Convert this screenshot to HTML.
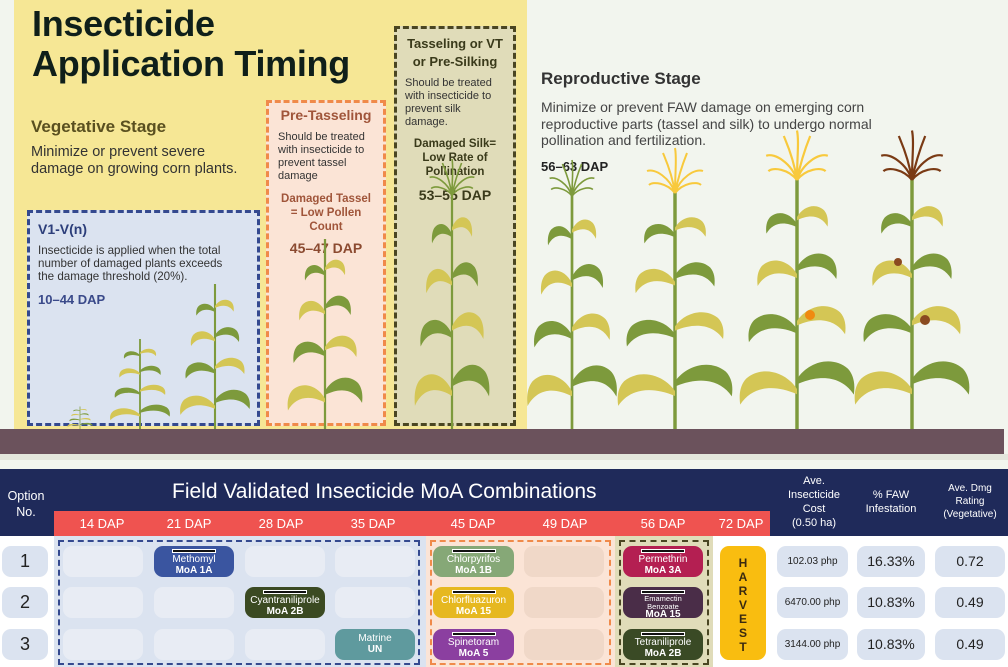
<!DOCTYPE html>
<html><head><meta charset="utf-8"><style>
*{margin:0;padding:0;box-sizing:border-box}
body{width:1008px;height:667px;position:relative;overflow:hidden;background:#f2f5ee;font-family:"Liberation Sans",sans-serif}
.a{position:absolute}
.c{text-align:center}
.cell{position:absolute;border-radius:9px;background:#e8ecf4;color:#fff;text-align:center;font-size:10px;line-height:11px}
.g{display:block;margin:3px auto 1px;width:44px;height:4px;background:#111;border:1px solid #fff}
.hd{color:#fff;font-size:21px;position:absolute}
.dap{position:absolute;top:516px;color:#fff;font-size:13px;width:80px;text-align:center}
.rc{position:absolute;border-radius:9px;background:#dbe3f0;color:#222;text-align:center}
</style></head><body>
<div class="a" style="left:14px;top:0;width:513px;height:430px;background:#f6e795"></div>
<div class="a" style="left:27px;top:210px;width:233px;height:216px;background:#dbe3f0;border:3px dashed #34498f"></div>
<div class="a" style="left:266px;top:100px;width:120px;height:326px;background:#fbe4d6;border:3px dashed #f08a4a"></div>
<div class="a" style="left:394px;top:26px;width:122px;height:400px;background:#e0dcb9;border:3px dashed #4a4622"></div>

<div class="a" style="left:32px;top:4px;font-size:36px;font-weight:bold;line-height:40px;color:#0f1f1a;letter-spacing:-0.3px">Insecticide<br>Application Timing</div>
<div class="a" style="left:31px;top:117px;font-size:17px;font-weight:bold;color:#5a5020">Vegetative Stage</div>
<div class="a" style="left:31px;top:144px;font-size:14.5px;line-height:17px;color:#333">Minimize or prevent severe<br>damage on growing corn plants.</div>
<div class="a" style="left:38px;top:221px;font-size:14px;font-weight:bold;color:#2c3e7a">V1-V(n)</div>
<div class="a" style="left:38px;top:244px;font-size:11.6px;line-height:13px;color:#333">Insecticide is applied when the total<br>number of damaged plants exceeds<br>the damage threshold (20%).</div>
<div class="a" style="left:38px;top:292px;font-size:13px;font-weight:bold;color:#3a4a8a">10–44 DAP</div>

<div class="a c" style="left:266px;top:107px;width:120px;font-size:14px;font-weight:bold;color:#a0553a">Pre-Tasseling</div>
<div class="a" style="left:278px;top:131px;font-size:11px;line-height:13px;color:#333">Should be treated<br>with insecticide to<br>prevent tassel<br>damage</div>
<div class="a c" style="left:266px;top:192px;width:120px;font-size:11.5px;line-height:14px;font-weight:bold;color:#a0553a">Damaged Tassel<br>= Low Pollen<br>Count</div>
<div class="a c" style="left:266px;top:240px;width:120px;font-size:14px;font-weight:bold;color:#8b4a30">45–47 DAP</div>

<div class="a c" style="left:394px;top:35px;width:122px;font-size:13px;line-height:18px;font-weight:bold;color:#3a3a1a">Tasseling or VT<br>or Pre-Silking</div>
<div class="a" style="left:405px;top:77px;font-size:11px;line-height:13px;color:#333">Should be treated<br>with insecticide to<br>prevent silk<br>damage.</div>
<div class="a c" style="left:394px;top:137px;width:122px;font-size:11.5px;line-height:14px;font-weight:bold;color:#3a3a1a">Damaged Silk=<br>Low Rate of<br>Pollination</div>
<div class="a c" style="left:394px;top:187px;width:122px;font-size:14px;font-weight:bold;color:#3a3a1a">53–55 DAP</div>

<div class="a" style="left:541px;top:69px;font-size:17px;font-weight:bold;color:#333">Reproductive Stage</div>
<div class="a" style="left:541px;top:99px;font-size:14px;line-height:16.5px;color:#444">Minimize or prevent FAW damage on emerging corn<br>reproductive parts (tassel and silk) to undergo normal<br>pollination and fertilization.</div>
<div class="a" style="left:541px;top:159px;font-size:13px;font-weight:bold;color:#222">56–63 DAP</div>

<svg class="a" style="left:0;top:0" width="1008" height="460">
<defs>
<path id="lf" d="M0 0 C8 -14 24 -18 34 -8 C38 -3 39 4 38 12 C30 -2 16 -4 0 4 Z"/>
<g id="corn">
<line x1="0" y1="0" x2="0" y2="-250" stroke="#7d9a3c" stroke-width="3"/>
<use href="#lf" fill="#d4c655" transform="translate(0,-40) scale(-1.3,1.3)"/>
<use href="#lf" fill="#7d9a3c" transform="translate(0,-50) scale(1.3,1.3)"/>
<use href="#lf" fill="#7d9a3c" transform="translate(0,-100) scale(-1.1,1.1)"/>
<use href="#lf" fill="#d4c655" transform="translate(0,-108) scale(1.1,1.1)"/>
<use href="#lf" fill="#d4c655" transform="translate(0,-155) scale(-0.9,1)"/>
<use href="#lf" fill="#7d9a3c" transform="translate(0,-162) scale(0.9,1)"/>
<use href="#lf" fill="#7d9a3c" transform="translate(0,-205) scale(-0.7,0.8)"/>
<use href="#lf" fill="#d4c655" transform="translate(0,-212) scale(0.7,0.8)"/>
</g>
<g id="tas" fill="none" stroke-width="2">
<path d="M0 0 C-5 -15 -20 -25 -28 -22 M0 0 C-3 -20 -10 -35 -12 -40 M0 0 C0 -20 2 -35 0 -45 M0 0 C4 -20 10 -35 12 -40 M0 0 C5 -15 20 -25 28 -22 M0 0 C-8 -10 -22 -12 -26 -8 M0 0 C8 -10 22 -12 26 -8"/>
</g>
</defs>
<use href="#corn" transform="translate(80,429) scale(0.25,0.09)"/>
<use href="#corn" transform="translate(140,429) scale(0.6,0.36)"/>
<use href="#corn" transform="translate(215,429) scale(0.7,0.58)"/>
<use href="#corn" transform="translate(325,429) scale(0.75,0.76)"/>
<use href="#corn" transform="translate(452,429) scale(0.75,0.95)"/>
<use href="#tas" stroke="#7d9a3c" transform="translate(452,195) scale(0.8)"/>
<use href="#corn" transform="translate(572,429) scale(0.9,0.94)"/>
<use href="#tas" stroke="#7d9a3c" transform="translate(572,196) scale(0.8)"/>
<use href="#corn" transform="translate(675,429) scale(1.15,0.95)"/>
<use href="#tas" stroke="#f8c93c" transform="translate(675,193)"/>
<use href="#corn" transform="translate(797,429) scale(1.15,1.0)"/>
<use href="#tas" stroke="#f8c93c" transform="translate(797,180) scale(1.1)"/>
<circle cx="810" cy="315" r="5" fill="#f08a10"/>
<use href="#corn" transform="translate(912,429) scale(1.15,1.0)"/>
<use href="#tas" stroke="#7a3a14" transform="translate(912,180) scale(1.1)"/>
<circle cx="925" cy="320" r="5" fill="#8a4a20"/><circle cx="898" cy="262" r="4" fill="#8a4a20"/>
<rect x="0" y="429" width="1004" height="25" fill="#6b525c"/>
<rect x="0" y="454" width="1008" height="15" fill="#e3e6dc"/>
</svg>

<!-- table -->
<div class="a" style="left:0;top:469px;width:1008px;height:67px;background:#1f2a5a"></div>
<div class="a" style="left:54px;top:511px;width:716px;height:25px;background:#ef5350"></div>
<div class="a c" style="left:0;top:488px;width:52px;color:#fff;font-size:12.5px;line-height:16px">Option<br>No.</div>
<div class="hd" style="left:172px;top:480px">Field Validated Insecticide MoA Combinations</div>
<div class="dap" style="left:62px">14 DAP</div><div class="dap" style="left:149px">21 DAP</div><div class="dap" style="left:241px">28 DAP</div><div class="dap" style="left:333px">35 DAP</div><div class="dap" style="left:433px">45 DAP</div><div class="dap" style="left:525px">49 DAP</div><div class="dap" style="left:623px">56 DAP</div><div class="dap" style="left:701px">72 DAP</div>
<div class="a c" style="left:772px;top:474px;width:84px;color:#fff;font-size:11px;line-height:14px">Ave.<br>Insecticide<br>Cost<br>(0.50 ha)</div>
<div class="a c" style="left:855px;top:488px;width:72px;color:#fff;font-size:11px;line-height:14px">% FAW<br>Infestation</div>
<div class="a c" style="left:932px;top:482px;width:76px;color:#fff;font-size:10px;line-height:13px">Ave. Dmg<br>Rating<br>(Vegetative)</div>

<div class="a" style="left:0;top:536px;width:1008px;height:131px;background:#fff"></div>
<div class="a" style="left:54px;top:536px;width:372px;height:131px;background:#dbe3f0"></div>
<div class="a" style="left:426px;top:536px;width:189px;height:131px;background:#fbe4d6"></div>
<div class="a" style="left:615px;top:536px;width:98px;height:131px;background:#e0dcb9"></div>
<div class="a" style="left:58px;top:540px;width:362px;height:125px;border:2px dashed #34498f"></div>
<div class="a" style="left:430px;top:540px;width:181px;height:125px;border:2px dashed #f08a4a"></div>
<div class="a" style="left:619px;top:540px;width:90px;height:125px;border:2px dashed #4a4622"></div>

<div class="rc" style="left:2px;top:546px;width:46px;height:31px;font-size:18px;line-height:31px">1</div>
<div class="rc" style="left:2px;top:587px;width:46px;height:31px;font-size:18px;line-height:31px">2</div>
<div class="rc" style="left:2px;top:629px;width:46px;height:31px;font-size:18px;line-height:31px">3</div>

<div class="cell" style="left:63px;top:546px;width:80px;height:31px"></div>
<div class="cell" style="left:154px;top:546px;width:80px;height:31px;background:#3a55a0"><span class="g"></span>Methomyl<br><b>MoA 1A</b></div>
<div class="cell" style="left:245px;top:546px;width:80px;height:31px"></div>
<div class="cell" style="left:335px;top:546px;width:80px;height:31px"></div>
<div class="cell" style="left:63px;top:587px;width:80px;height:31px"></div>
<div class="cell" style="left:154px;top:587px;width:80px;height:31px"></div>
<div class="cell" style="left:245px;top:587px;width:80px;height:31px;background:#3b4a22"><span class="g"></span>Cyantraniliprole<br><b>MoA 2B</b></div>
<div class="cell" style="left:335px;top:587px;width:80px;height:31px"></div>
<div class="cell" style="left:63px;top:629px;width:80px;height:31px"></div>
<div class="cell" style="left:154px;top:629px;width:80px;height:31px"></div>
<div class="cell" style="left:245px;top:629px;width:80px;height:31px"></div>
<div class="cell" style="left:335px;top:629px;width:80px;height:31px;background:#5f9a9e;padding-top:4px">Matrine<br><b>UN</b></div>

<div class="cell" style="left:433px;top:546px;width:81px;height:31px;background:#86a877"><span class="g"></span>Chlorpyrifos<br><b>MoA 1B</b></div>
<div class="cell" style="left:524px;top:546px;width:80px;height:31px;background:#f0d8c8"></div>
<div class="cell" style="left:433px;top:587px;width:81px;height:31px;background:#e6b820"><span class="g"></span>Chlorfluazuron<br><b>MoA 15</b></div>
<div class="cell" style="left:524px;top:587px;width:80px;height:31px;background:#f0d8c8"></div>
<div class="cell" style="left:433px;top:629px;width:81px;height:31px;background:#8b3fa0"><span class="g"></span>Spinetoram<br><b>MoA 5</b></div>
<div class="cell" style="left:524px;top:629px;width:80px;height:31px;background:#f0d8c8"></div>

<div class="cell" style="left:623px;top:546px;width:80px;height:31px;background:#b41f52"><span class="g"></span>Permethrin<br><b>MoA 3A</b></div>
<div class="cell" style="left:623px;top:587px;width:80px;height:31px;background:#4a2d48;font-size:7.5px;line-height:7.5px"><span class="g"></span>Emamectin<br>Benzoate<br><b style="font-size:10px;line-height:10px">MoA 15</b></div>
<div class="cell" style="left:623px;top:629px;width:80px;height:31px;background:#3a4a25"><span class="g"></span>Tetraniliprole<br><b>MoA 2B</b></div>

<div class="a c" style="left:720px;top:546px;width:46px;height:114px;background:#f9bd10;border-radius:9px;font-size:12px;font-weight:bold;line-height:14px;padding-top:10px;color:#3a2a10">H<br>A<br>R<br>V<br>E<br>S<br>T</div>

<div class="rc" style="left:777px;top:546px;width:71px;height:31px;font-size:10px;line-height:31px">102.03 php</div>
<div class="rc" style="left:777px;top:587px;width:71px;height:31px;font-size:10px;line-height:31px">6470.00 php</div>
<div class="rc" style="left:777px;top:629px;width:71px;height:31px;font-size:10px;line-height:31px">3144.00 php</div>
<div class="rc" style="left:857px;top:546px;width:68px;height:31px;font-size:14px;line-height:31px">16.33%</div>
<div class="rc" style="left:857px;top:587px;width:68px;height:31px;font-size:14px;line-height:31px">10.83%</div>
<div class="rc" style="left:857px;top:629px;width:68px;height:31px;font-size:14px;line-height:31px">10.83%</div>
<div class="rc" style="left:935px;top:546px;width:70px;height:31px;font-size:14px;line-height:31px">0.72</div>
<div class="rc" style="left:935px;top:587px;width:70px;height:31px;font-size:14px;line-height:31px">0.49</div>
<div class="rc" style="left:935px;top:629px;width:70px;height:31px;font-size:14px;line-height:31px">0.49</div>
</body></html>
